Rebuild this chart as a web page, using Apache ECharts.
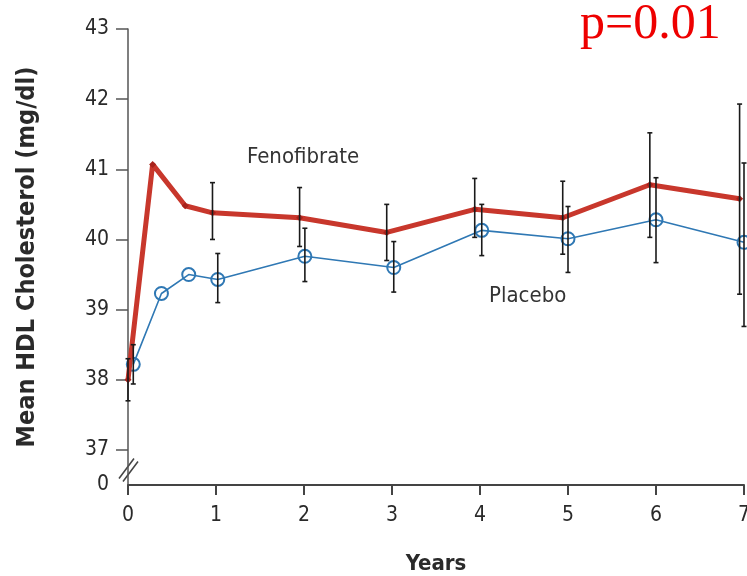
<!DOCTYPE html>
<html>
<head>
<meta charset="utf-8">
<script src="https://cdn.jsdelivr.net/npm/echarts@6/dist/echarts.min.js"></script>
<style>
  html, body { margin: 0; padding: 0; background: #fff; }
  #chart { width: 747px; height: 576px; }
</style>
</head>
<body>
<div id="chart"></div>
<script>
// years and mean HDL (mg/dl)
const fenoYears = [0, 0.28, 0.65, 0.96, 1.95, 2.94, 3.94, 4.94, 5.93, 6.95];
const fenoHdl = [38.0, 41.07, 40.48, 40.38, 40.31, 40.1, 40.43, 40.31, 40.78, 40.58];
const fenoLow = [37.7, null, null, 40.0, 39.9, 39.7, 40.03, 39.79, 40.03, 39.22];
const fenoHigh = [38.3, null, null, 40.81, 40.74, 40.5, 40.87, 40.83, 41.52, 41.93];

const placYears = [0.06, 0.38, 0.69, 1.02, 2.01, 3.02, 4.02, 5.0, 6.0, 7.0];
const placHdl = [38.22, 39.23, 39.5, 39.43, 39.76, 39.6, 40.13, 40.01, 40.28, 39.96];
const placLow = [37.94, null, null, 39.1, 39.4, 39.25, 39.77, 39.53, 39.67, 38.76];
const placHigh = [38.5, null, null, 39.8, 40.16, 39.97, 40.5, 40.47, 40.88, 41.09];

const yTicks = [37, 38, 39, 40, 41, 42, 43];
const yBreakValue = 36.5;   // shown as "0" below the axis break

var dom = document.getElementById('chart');
var myChart = echarts.init(dom, null, { renderer: 'canvas' });

function pairs(xs, ys) {
  return xs.map((x, i) => [x, ys[i]]);
}
function bars(xs, lo, hi) {
  let out = [];
  xs.forEach((x, i) => {
    if (lo[i] != null) out.push([x, lo[i], hi[i]]);
  });
  return out;
}

function errorBars(params, api) {
  const x = api.value(0);
  const top = api.coord([x, api.value(2)]);
  const bot = api.coord([x, api.value(1)]);
  const cap = 2.5;
  const st = { stroke: '#1a1a1a', lineWidth: 1.6 };
  return {
    type: 'group',
    children: [
      { type: 'line', shape: { x1: top[0], y1: top[1], x2: bot[0], y2: bot[1] }, style: st },
      { type: 'line', shape: { x1: top[0] - cap, y1: top[1], x2: top[0] + cap, y2: top[1] }, style: st },
      { type: 'line', shape: { x1: bot[0] - cap, y1: bot[1], x2: bot[0] + cap, y2: bot[1] }, style: st }
    ]
  };
}

const axisFont = 'DejaVu Sans Condensed, DejaVu Sans, sans-serif';

var option = {
  animation: false,
  grid: { left: 128, right: 3, top: 29, bottom: 91, outerBoundsMode: 'none' },
  xAxis: {
    type: 'value',
    min: 0,
    max: 7,
    interval: 1,
    name: 'Years',
    nameLocation: 'middle',
    nameGap: 68,
    nameTextStyle: { fontFamily: axisFont, fontWeight: 'bold', fontSize: 22, color: '#2a2a2a' },
    axisLine: { show: true, lineStyle: { color: '#444', width: 2 } },
    axisTick: { show: true, length: 10, lineStyle: { color: '#444', width: 2 } },
    axisLabel: { margin: 20, fontFamily: axisFont, fontSize: 21, color: '#2a2a2a' },
    splitLine: { show: false }
  },
  yAxis: {
    type: 'value',
    min: yBreakValue,
    max: 43,
    name: 'Mean HDL Cholesterol (mg/dl)',
    nameLocation: 'middle',
    nameGap: 88,
    nameTextStyle: { fontFamily: axisFont, fontWeight: 'bold', fontSize: 25, color: '#2a2a2a' },
    axisLine: { show: true, lineStyle: { color: '#555', width: 1.5 } },
    axisTick: { show: true, length: 12, customValues: yTicks, lineStyle: { color: '#555', width: 1.5 } },
    axisLabel: {
      margin: 19,
      fontFamily: axisFont,
      fontSize: 21,
      color: '#2a2a2a',
      customValues: [yBreakValue].concat(yTicks),
      formatter: v => (v === yBreakValue ? '0' : String(v))
    },
    splitLine: { show: false }
  },
  series: [
    {
      name: 'Placebo',
      type: 'line',
      data: pairs(placYears, placHdl),
      symbol: 'circle',
      symbolSize: 13,
      lineStyle: { color: '#2f78b4', width: 1.6 },
      itemStyle: { color: 'rgba(0,0,0,0)', borderColor: '#2f78b4', borderWidth: 2 },
      z: 2
    },
    {
      name: 'Fenofibrate',
      type: 'line',
      data: pairs(fenoYears, fenoHdl),
      symbol: 'diamond',
      symbolSize: 7,
      lineStyle: { color: '#c8372c', width: 5 },
      itemStyle: { color: '#a8231c' },
      z: 3
    },
    {
      type: 'custom',
      renderItem: errorBars,
      data: bars(fenoYears, fenoLow, fenoHigh),
      encode: { x: 0, y: [1, 2] },
      z: 4
    },
    {
      type: 'custom',
      renderItem: errorBars,
      data: bars(placYears, placLow, placHigh),
      encode: { x: 0, y: [1, 2] },
      z: 4
    }
  ],
  graphic: [
    {
      id: 'feno-label',
      type: 'text',
      left: 247,
      top: 146,
      style: { text: 'Fenofibrate', font: '22px ' + axisFont, fill: '#333' }
    },
    {
      id: 'plac-label',
      type: 'text',
      left: 489,
      top: 285,
      style: { text: 'Placebo', font: '22px ' + axisFont, fill: '#333' }
    },
    {
      id: 'pvalue',
      type: 'text',
      left: 580,
      top: 0,
      style: { text: 'p=0.01', font: '50px Liberation Serif, serif', fill: '#ee0000' }
    }
  ]
};

myChart.setOption(option);

// the "//" break mark on the y axis
const mid = myChart.convertToPixel({ gridIndex: 0 }, [0, 36.75]);
myChart.setOption({
  graphic: [
    {
      id: 'break-a',
      type: 'line',
      shape: { x1: mid[0] - 9, y1: mid[1] + 11, x2: mid[0] + 6, y2: mid[1] - 9 },
      style: { stroke: '#444', lineWidth: 1.5 }
    },
    {
      id: 'break-b',
      type: 'line',
      shape: { x1: mid[0] - 5, y1: mid[1] + 14, x2: mid[0] + 10, y2: mid[1] - 6 },
      style: { stroke: '#444', lineWidth: 1.5 }
    }
  ]
});

window.addEventListener('resize', myChart.resize);
</script>
</body>
</html>
